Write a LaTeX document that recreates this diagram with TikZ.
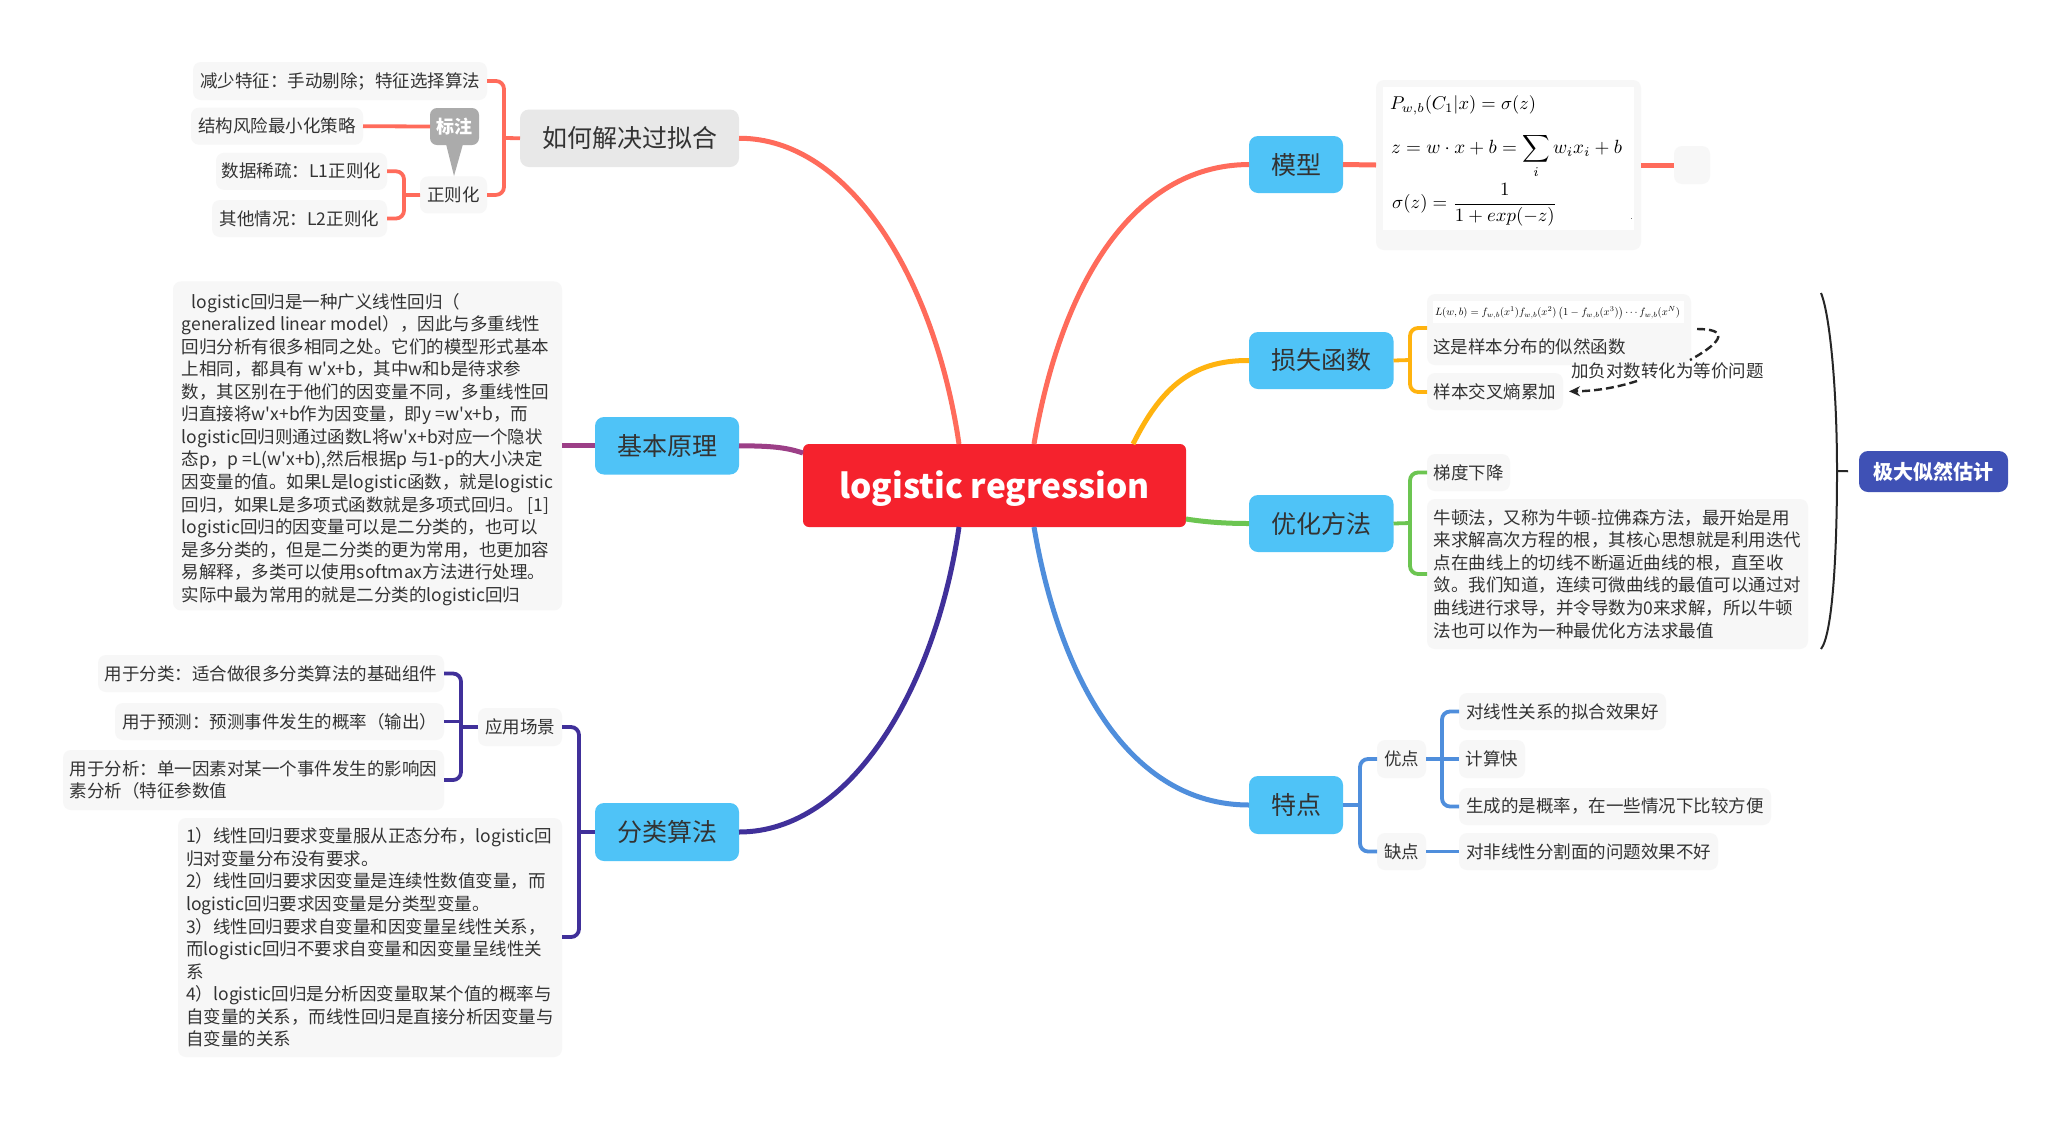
\documentclass[tikz,border=0pt]{standalone}
\usepackage{amsmath}
\usepackage{fontspec}
\setmainfont{Noto Sans CJK SC}[Ligatures=TeXOff]
\usetikzlibrary{arrows.meta,calc}
\definecolor{coral}{HTML}{FF6B5B}
\definecolor{amber}{HTML}{FFB30F}
\definecolor{leaf}{HTML}{6CC551}
\definecolor{skyl}{HTML}{4F8EDC}
\definecolor{indig}{HTML}{40309A}
\definecolor{plum}{HTML}{9C3F87}
\definecolor{nodeblue}{HTML}{4FC3F7}
\definecolor{boxgray}{HTML}{F7F7F7}
\definecolor{txt}{HTML}{333333}
\definecolor{rootred}{HTML}{F5222D}
\definecolor{mlblue}{HTML}{3F51B5}
\tikzset{
  wh/.style 2 args={minimum width=#1pt,minimum height=#2pt,anchor=north west,inner sep=0pt,outer sep=0pt},
  tbox/.style={fill=boxgray,rounded corners=8pt,text=txt,align=left,font=\fontsize{17.5}{22.55}\selectfont},
  bluebox/.style={fill=nodeblue,rounded corners=9pt,text=txt,font=\fontsize{25}{30}\selectfont},
  graybox/.style={fill=black!9,rounded corners=9pt,text=txt,font=\fontsize{25}{30}\selectfont},
  rootbox/.style={fill=rootred,rounded corners=6pt,text=white,font=\fontsize{33.5}{40}\selectfont\bfseries},
  mlbox/.style={fill=mlblue,rounded corners=9pt,text=white,font=\fontsize{20}{24}\selectfont\bfseries},
  callbox/.style={fill=black!33,rounded corners=7pt,text=white,font=\fontsize{18}{22}\selectfont\bfseries},
  mainline/.style={line width=5pt},
  subline/.style={line width=3.8pt,rounded corners=8pt},
  formula/.style={inner sep=0pt,outer sep=0pt,anchor=west},
  plain/.style={inner sep=0pt,outer sep=0pt,text=txt,font=\fontsize{17.5}{22.7}\selectfont},
}
\begin{document}
\begin{tikzpicture}[x=1pt,y=-1pt]
\useasboundingbox (0,0) rectangle (2071,1120);
\fill[white] (0,0) rectangle (2071,1120);
% root and main branches
\node[rootbox,wh={383}{83}] (root) at (803,444) {\rule{0pt}{33pt}logistic regression};
\node[graybox,wh={219}{57.5}] (how) at (520,109.5) {如何解决过拟合};
\node[bluebox,wh={144}{57.5}] (basic) at (595,417) {基本原理};
\node[bluebox,wh={144}{58}] (algo) at (595,803) {分类算法};
\node[bluebox,wh={94}{57}] (model) at (1249,136) {模型};
\node[bluebox,wh={144.5}{57}] (loss) at (1249,332) {损失函数};
\node[bluebox,wh={144.5}{57}] (opt) at (1249,495) {优化方法};
\node[bluebox,wh={94}{58}] (feat) at (1249,776) {特点};
% overfit leaves
\node[tbox,wh={294}{38}] (reduce) at (193,62) {减少特征：手动剔除；特征选择算法};
\node[tbox,wh={172}{37}] (srm) at (191,107.7) {结构风险最小化策略};
\node[tbox,wh={171}{37}] (l1) at (216,152.8) {数据稀疏：L1正则化};
\node[tbox,wh={175}{37}] (l2) at (212,200) {其他情况：L2正则化};
\node[tbox,wh={67}{37}] (reg) at (420,176.4) {正则化};
\node[callbox,wh={49}{37}] (note) at (430,108) {标注};
\coordinate (tip) at (454,176);
\fill[black!33] ($(note.south)+(-8.5,-1)$) -- (tip) -- ($(note.south)+(8.5,-1)$) -- cycle;
% principle text
\node[tbox,wh={389}{329}] (ptext) at (173,281.4) {\rule{0pt}{22pt}\hspace*{10pt}logistic回归是一种广义线性回归（\\
generalized linear model），因此与多重线性\\
回归分析有很多相同之处。它们的模型形式基本\\
上相同，都具有 w'x+b，其中w和b是待求参\\
数，其区别在于他们的因变量不同，多重线性回\\
归直接将w'x+b作为因变量，即y =w'x+b，而\\
logistic回归则通过函数L将w'x+b对应一个隐状\\
态p，p =L(w'x+b),然后根据p 与1-p的大小决定\\
因变量的值。如果L是logistic函数，就是logistic\\
回归，如果L是多项式函数就是多项式回归。 [1]\\
logistic回归的因变量可以是二分类的，也可以\\
是多分类的，但是二分类的更为常用，也更加容\\
易解释，多类可以使用softmax方法进行处理。\\
实际中最为常用的就是二分类的logistic回归};
% algorithm leaves
\node[tbox,wh={346}{37}] (u1) at (98,655) {用于分类：适合做很多分类算法的基础组件};
\node[tbox,wh={329}{37}] (u2) at (115,703) {用于预测：预测事件发生的概率（输出）};
\node[tbox,wh={381}{60}] (u3) at (63,750) {用于分析：单一因素对某一个事件发生的影响因\\素分析（特征参数值};
\node[tbox,wh={84}{38}] (scene) at (478,708) {应用场景};
\node[tbox,wh={384}{239}] (diff) at (178,818) {1）线性回归要求变量服从正态分布，logistic回\\
归对变量分布没有要求。\\
2）线性回归要求因变量是连续性数值变量，而\\
logistic回归要求因变量是分类型变量。\\
3）线性回归要求自变量和因变量呈线性关系，\\
而logistic回归不要求自变量和因变量呈线性关\\
系\\
4）logistic回归是分析因变量取某个值的概率与\\
自变量的关系，而线性回归是直接分析因变量与\\
自变量的关系};
% model
\node[tbox,wh={265}{170}] (fbox) at (1376,80) {};
\node[fill=white,wh={251}{143}] (fwhite) at (1383,87) {};
\node[formula] (f1) at (1390,105) {\resizebox{146pt}{!}{$P_{w,b}(C_1|x)=\sigma(z)$}};
\node[formula] (f2) at (1391,156) {\resizebox{231pt}{!}{$z=w\cdot x+b=\displaystyle\sum_i w_i x_i+b$}};
\node[formula] (f3) at (1392,205) {\resizebox{165pt}{!}{$\sigma(z)=\dfrac{1}{1+exp(-z)}$}};
\fill[black!55] (1630.5,217.5) rectangle (1632,219);
\node[tbox,wh={36}{38}] (empty) at (1674,146) {};
% loss
\node[tbox,wh={264}{71}] (lbox) at (1427,294) {};
\node[fill=white,wh={251}{22}] (lwhite) at (1433,301) {};
\node[formula] (lf) at (1435,313) {\resizebox{245pt}{!}{$L(w,b)=f_{w,b}(x^1)f_{w,b}(x^2)\left(1-f_{w,b}(x^3)\right)\cdots f_{w,b}(x^N)$}};
\node[plain,anchor=west] (ltext) at (1433,347) {这是样本分布的似然函数};
\node[tbox,wh={136}{37}] (cross) at (1427,373) {样本交叉熵累加};
\node[plain,anchor=west] (rel) at (1571,371) {加负对数转化为等价问题};
% optimisation
\node[tbox,wh={83}{37}] (gd) at (1427,454) {梯度下降};
\node[tbox,wh={381}{150}] (newton) at (1427,499) {牛顿法，又称为牛顿-拉佛森方法，最开始是用\\
来求解高次方程的根，其核心思想就是利用迭代\\
点在曲线上的切线不断逼近曲线的根，直至收\\
敛。我们知道，连续可微曲线的最值可以通过对\\
曲线进行求导，并令导数为0来求解，所以牛顿\\
法也可以作为一种最优化方法求最值};
\node[mlbox,wh={149}{41}] (mle) at (1859,451) {极大似然估计};
% features
\node[tbox,wh={49}{38}] (pro) at (1377,740) {优点};
\node[tbox,wh={49}{37}] (con) at (1377,833) {缺点};
\node[tbox,wh={207}{37}] (p1) at (1459,693) {对线性关系的拟合效果好};
\node[tbox,wh={66}{38}] (p2) at (1459,740) {计算快};
\node[tbox,wh={312}{37}] (p3) at (1459,788) {生成的是概率，在一些情况下比较方便};
\node[tbox,wh={259}{37}] (c1) at (1459,833) {对非线性分割面的问题效果不好};
% root attach points
\coordinate (rTL) at (959,444);
\coordinate (rBL) at (959,527);
\coordinate (rTR) at (1034,444);
\coordinate (rTM) at (1133,444);
\coordinate (rBR) at (1034,527);
\coordinate (rL) at (803,453);
\coordinate (rR) at (1186,519);
% main curves
\draw[mainline,coral] (how.east) .. controls (850,138) and (935,280) .. (rTL);
\draw[mainline,plum] (basic.east) .. controls (770,446) and (785,447) .. (rL);
\draw[mainline,indig] (algo.east) .. controls (850,832) and (935,690) .. (rBL);
\draw[mainline,coral] (model.west) .. controls (1130,165) and (1060,290) .. (rTR);
\draw[mainline,amber] (loss.west) .. controls (1190,360) and (1160,390) .. (rTM);
\draw[mainline,leaf] (opt.west) .. controls (1225,523.5) and (1205,522) .. (rR);
\draw[mainline,skyl] (feat.west) .. controls (1130,805) and (1060,680) .. (rBR);
% overfit brackets
\coordinate (tA) at (504,138);
\coordinate (tB) at (404,195);
\draw[subline,coral] (reduce.east) -- (reduce.east -| tA) -- (reg.east -| tA) -- (reg.east);
\draw[subline,coral] (how.west) -- (tA);
\draw[subline,coral] (l1.east) -- (l1.east -| tB) -- (l2.east -| tB) -- (l2.east);
\draw[subline,coral] (reg.west) -- (tB);
\draw[subline,coral] (srm.east) -- (note.west);
% principle
\draw[mainline,plum] (ptext.east |- basic.west) -- (basic.west);
% algo brackets
\coordinate (tC) at (579,832);
\coordinate (tD) at (461,727);
\coordinate (dT) at (562,937);
\draw[subline,indig] (scene.east) -- (scene.east -| tC) -- (dT -| tC) -- (dT);
\draw[subline,indig] (algo.west) -- (tC);
\draw[subline,indig] (u1.east) -- (u1.east -| tD) -- (u3.east -| tD) -- (u3.east);
\draw[subline,indig] (u2.east) -- (u2.east -| tD);
\draw[subline,indig] (scene.west) -- (tD);
% model connectors
\draw[mainline,coral] (model.east) -- (fbox.west);
\draw[mainline,coral] (fbox.east) -- (empty.west);
% loss brackets
\coordinate (tE) at (1410,360);
\coordinate (lT) at (1427,328);
\coordinate (lB) at (1427,392);
\draw[subline,amber] (lT) -- (lT -| tE) -- (lB -| tE) -- (lB);
\draw[subline,amber] (loss.east) -- (tE);
% relation
\coordinate (ra) at (1697,329);
\coordinate (rb) at (1690,360);
\coordinate (rc) at (1637,381);
\draw[line width=2.4pt,dash pattern=on 8pt off 4pt,black!85] (ra) .. controls (1727,329) and (1726,340) .. (rb);
\draw[line width=2.4pt,dash pattern=on 8pt off 4pt,black!85,shorten >=6pt,-{Stealth[length=11pt,width=10pt]}] (rc) .. controls (1615,388) and (1595,391) .. (cross.east);
% opt brackets
\coordinate (tF) at (1410,523);
\coordinate (nT) at (1427,574);
\draw[subline,leaf] (gd.west) -- (gd.west -| tF) -- (nT -| tF) -- (nT);
\draw[subline,leaf] (opt.east) -- (tF);
% brace
\coordinate (bT) at (1821,293);
\coordinate (bM) at (1837,471);
\coordinate (bB) at (1821,649);
\draw[line width=2pt,black!85] (bT) .. controls (1830,315) and (1837,390) .. (bM) .. controls (1837,560) and (1832,635) .. (bB);
\draw[line width=2pt,black!85,shorten >=11pt] (bM) -- (mle.west);
% feature brackets
\coordinate (tG) at (1360,805);
\coordinate (tH) at (1442,759);
\draw[subline,skyl] (pro.west) -- (pro.west -| tG) -- (con.west -| tG) -- (con.west);
\draw[subline,skyl] (feat.east) -- (tG);
\draw[subline,skyl] (p1.west) -- (p1.west -| tH) -- (p3.west -| tH) -- (p3.west);
\draw[subline,skyl] (pro.east) -- (p2.west);
\draw[subline,skyl] (con.east) -- (c1.west);
\end{tikzpicture}
\end{document}
